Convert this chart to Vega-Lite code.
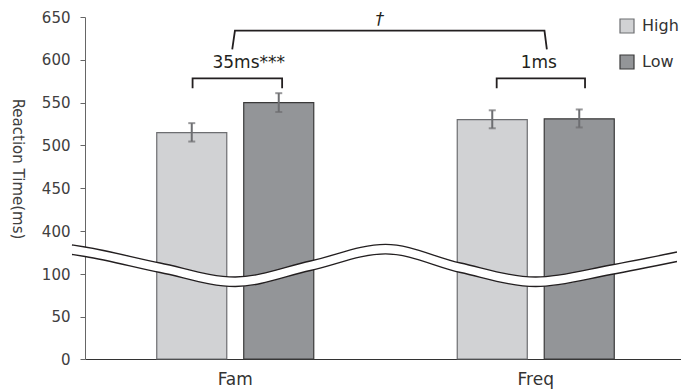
{
  "$schema": "https://vega.github.io/schema/vega-lite/v6.json",
  "width": 601,
  "height": 342,
  "autosize": {"type": "none"},
  "padding": {"left": 85, "top": 17, "right": 0, "bottom": 32},
  "config": {
    "view": {"stroke": null},
    "font": "DejaVu Sans",
    "axisY": {
      "grid": false,
      "labelFontSize": 15,
      "labelColor": "#404040",
      "labelPadding": 10,
      "tickSize": 5,
      "tickColor": "#666666",
      "domainColor": "#666666",
      "titleFontSize": 15,
      "titleFontWeight": "normal",
      "titleColor": "#404040",
      "titleAngle": 90,
      "titleX": -68,
      "titleY": 151.5,
      "titleAlign": "center",
      "titleBaseline": "middle"
    },
    "axisX": {
      "grid": false,
      "ticks": false,
      "tickSize": 0,
      "labelAngle": 0,
      "labelFontSize": 17,
      "labelColor": "#333333",
      "labelPadding": 12,
      "domainColor": "#333333",
      "domainWidth": 1.2
    }
  },
  "datasets": {
    "rt": [
      {"cond": "Fam", "level": "High", "rt": 515, "lo": 504.5, "hi": 526},
      {"cond": "Fam", "level": "Low", "rt": 550, "lo": 539, "hi": 561},
      {"cond": "Freq", "level": "High", "rt": 530, "lo": 520, "hi": 541},
      {"cond": "Freq", "level": "Low", "rt": 531, "lo": 521, "hi": 542}
    ],
    "wave": [
      {"pos": -0.0433, "top": 302.3, "bot": 236.0},
      {"pos": 0, "top": 288.4, "bot": 222.1},
      {"pos": 0.25, "top": 176.7, "bot": 110.5},
      {"pos": 0.5, "top": 96.5, "bot": 85.3},
      {"pos": 0.75, "top": 190.7, "bot": 124.4},
      {"pos": 1.0, "top": 307.2, "bot": 240.9},
      {"pos": 1.25, "top": 176.7, "bot": 110.5},
      {"pos": 1.5, "top": 96.5, "bot": 85.3},
      {"pos": 1.75, "top": 162.8, "bot": 99.4},
      {"pos": 1.97, "top": 253.5, "bot": 187.2}
    ],
    "brackets": [
      {"id": "fam", "ord": 1, "pos": 0.358, "val": 566.7},
      {"id": "fam", "ord": 2, "pos": 0.358, "val": 578.4},
      {"id": "fam", "ord": 3, "pos": 0.656, "val": 578.4},
      {"id": "fam", "ord": 4, "pos": 0.656, "val": 566.7},
      {"id": "freq", "ord": 1, "pos": 1.37, "val": 566.7},
      {"id": "freq", "ord": 2, "pos": 1.37, "val": 578.4},
      {"id": "freq", "ord": 3, "pos": 1.664, "val": 578.4},
      {"id": "freq", "ord": 4, "pos": 1.664, "val": 566.7},
      {"id": "both", "ord": 1, "pos": 0.49, "val": 612.3},
      {"id": "both", "ord": 2, "pos": 0.499, "val": 634},
      {"id": "both", "ord": 3, "pos": 1.529, "val": 634},
      {"id": "both", "ord": 4, "pos": 1.537, "val": 612.3}
    ],
    "notes": [
      {"pos": 0.545, "val": 590.1, "label": "35ms***"},
      {"pos": 1.51, "val": 590.1, "label": "1ms"}
    ],
    "marks": [
      {"pos": 0.981, "val": 641, "label": "†"}
    ]
  },
  "layer": [
    {
      "data": {"name": "rt"},
      "encoding": {
        "x": {
          "field": "cond", "type": "nominal", "title": null,
          "scale": {"type": "band", "paddingInner": 0.4775, "paddingOuter": 0.23875}
        },
        "xOffset": {
          "field": "level", "type": "nominal",
          "scale": {"domain": ["High", "Low"], "paddingInner": 0.195, "paddingOuter": 0}
        }
      },
      "layer": [
        {
          "mark": {"type": "bar", "strokeWidth": 1.2},
          "encoding": {
            "y": {
              "field": "rt", "type": "quantitative", "title": "Reaction Time(ms)",
              "scale": {"domain": [0, 100, 400, 650], "range": [342, 257, 214, 0], "nice": false, "zero": false},
              "axis": {"values": [0, 50, 100, 400, 450, 500, 550, 600, 650]}
            },
            "fill": {
              "field": "level", "type": "nominal",
              "scale": {"domain": ["High", "Low"], "range": ["#d1d2d4", "#939598"]},
              "legend": {
                "orient": "none", "legendX": 534, "legendY": 1, "title": null,
                "symbolType": "square", "symbolSize": 196, "symbolStrokeWidth": 1.2,
                "labelFontSize": 16, "labelColor": "#333333", "labelOffset": 7,
                "rowPadding": 16, "padding": 0
              }
            },
            "stroke": {
              "field": "level", "type": "nominal",
              "scale": {"domain": ["High", "Low"], "range": ["#6d6e71", "#3a3a3a"]},
              "legend": {
                "orient": "none", "legendX": 534, "legendY": 1, "title": null,
                "symbolType": "square", "symbolSize": 196, "symbolStrokeWidth": 1.2,
                "labelFontSize": 16, "labelColor": "#333333", "labelOffset": 7,
                "rowPadding": 16, "padding": 0
              }
            }
          }
        },
        {
          "mark": {"type": "rule", "color": "#6d6e71", "strokeWidth": 2},
          "encoding": {
            "y": {"field": "lo", "type": "quantitative", "title": "Reaction Time(ms)",
              "scale": {"domain": [0, 100, 400, 650], "range": [342, 257, 214, 0], "nice": false, "zero": false}},
            "y2": {"field": "hi"}
          }
        },
        {
          "mark": {"type": "tick", "color": "#6d6e71", "size": 7, "thickness": 2},
          "encoding": {
            "y": {"field": "lo", "type": "quantitative", "title": "Reaction Time(ms)",
              "scale": {"domain": [0, 100, 400, 650], "range": [342, 257, 214, 0], "nice": false, "zero": false}}
          }
        },
        {
          "mark": {"type": "tick", "color": "#6d6e71", "size": 7, "thickness": 2},
          "encoding": {
            "y": {"field": "hi", "type": "quantitative", "title": "Reaction Time(ms)",
              "scale": {"domain": [0, 100, 400, 650], "range": [342, 257, 214, 0], "nice": false, "zero": false}}
          }
        }
      ]
    },
    {
      "layer": [
        {
          "data": {"name": "wave"},
          "mark": {"type": "area", "orient": "vertical", "interpolate": "monotone", "fill": "white", "clip": false},
          "encoding": {
            "x": {"field": "pos", "type": "quantitative", "axis": null, "scale": {"domain": [0, 2], "nice": false, "zero": false}},
            "y": {"field": "top", "type": "quantitative", "title": "Reaction Time(ms)",
              "scale": {"domain": [0, 100, 400, 650], "range": [342, 257, 214, 0], "nice": false, "zero": false}},
            "y2": {"field": "bot"}
          }
        },
        {
          "data": {"name": "wave"},
          "mark": {"type": "line", "interpolate": "monotone", "color": "#231f20", "strokeWidth": 1.3},
          "encoding": {
            "x": {"field": "pos", "type": "quantitative", "axis": null, "scale": {"domain": [0, 2], "nice": false, "zero": false}},
            "y": {"field": "top", "type": "quantitative", "title": "Reaction Time(ms)",
              "scale": {"domain": [0, 100, 400, 650], "range": [342, 257, 214, 0], "nice": false, "zero": false}}
          }
        },
        {
          "data": {"name": "wave"},
          "mark": {"type": "line", "interpolate": "monotone", "color": "#231f20", "strokeWidth": 1.3},
          "encoding": {
            "x": {"field": "pos", "type": "quantitative", "axis": null, "scale": {"domain": [0, 2], "nice": false, "zero": false}},
            "y": {"field": "bot", "type": "quantitative", "title": "Reaction Time(ms)",
              "scale": {"domain": [0, 100, 400, 650], "range": [342, 257, 214, 0], "nice": false, "zero": false}}
          }
        },
        {
          "data": {"name": "brackets"},
          "mark": {"type": "line", "color": "#231f20", "strokeWidth": 1.8},
          "encoding": {
            "x": {"field": "pos", "type": "quantitative", "axis": null, "scale": {"domain": [0, 2], "nice": false, "zero": false}},
            "y": {"field": "val", "type": "quantitative", "title": "Reaction Time(ms)",
              "scale": {"domain": [0, 100, 400, 650], "range": [342, 257, 214, 0], "nice": false, "zero": false}},
            "detail": {"field": "id"},
            "order": {"field": "ord", "type": "quantitative"}
          }
        },
        {
          "data": {"name": "notes"},
          "mark": {"type": "text", "fontSize": 17, "color": "#231f20", "align": "center", "baseline": "alphabetic"},
          "encoding": {
            "x": {"field": "pos", "type": "quantitative", "axis": null, "scale": {"domain": [0, 2], "nice": false, "zero": false}},
            "y": {"field": "val", "type": "quantitative", "title": "Reaction Time(ms)",
              "scale": {"domain": [0, 100, 400, 650], "range": [342, 257, 214, 0], "nice": false, "zero": false}},
            "text": {"field": "label"}
          }
        },
        {
          "data": {"name": "marks"},
          "mark": {"type": "text", "fontSize": 17, "fontStyle": "italic", "color": "#231f20", "align": "center", "baseline": "alphabetic"},
          "encoding": {
            "x": {"field": "pos", "type": "quantitative", "axis": null, "scale": {"domain": [0, 2], "nice": false, "zero": false}},
            "y": {"field": "val", "type": "quantitative", "title": "Reaction Time(ms)",
              "scale": {"domain": [0, 100, 400, 650], "range": [342, 257, 214, 0], "nice": false, "zero": false}},
            "text": {"field": "label"}
          }
        }
      ]
    }
  ],
  "resolve": {"scale": {"x": "independent"}}
}
